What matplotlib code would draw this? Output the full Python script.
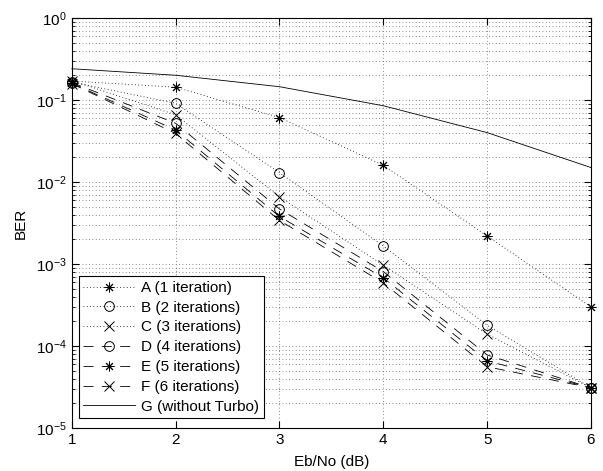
import matplotlib
matplotlib.use("Agg")
import matplotlib.pyplot as plt
from matplotlib.ticker import LogLocator, NullFormatter

plt.rcParams["font.family"] = ["Liberation Sans", "DejaVu Sans"]
plt.rcParams["mathtext.fontset"] = "custom"
plt.rcParams["mathtext.rm"] = "Liberation Sans"
plt.rcParams["mathtext.it"] = "Liberation Sans"

ebno = [1, 2, 3, 4, 5, 6]

ber_a = [0.170, 0.143, 0.061, 0.016, 0.0022, 0.00030]
ber_b = [0.165, 0.091, 0.013, 0.00166, 0.00018, 0.000031]
ber_c = [0.172, 0.066, 0.0066, 0.00097, 0.00014, 0.000031]
ber_d = [0.163, 0.052, 0.0047, 0.00081, 0.000078, 0.000031]
ber_e = [0.160, 0.043, 0.0038, 0.00068, 0.000066, 0.000031]
ber_f = [0.158, 0.039, 0.0034, 0.00059, 0.000056, 0.000031]
ber_g = [0.240, 0.200, 0.145, 0.085, 0.040, 0.015]

labels = [
    "A (1 iteration)",
    "B (2 iterations)",
    "C (3 iterations)",
    "D (4 iterations)",
    "E (5 iterations)",
    "F (6 iterations)",
    "G (without Turbo)",
]

asterisk = (8, 2, 0)
dotted = (0, (1, 3))
dashed = (0, (12, 10))

series = [
    (ber_a, asterisk, dotted),
    (ber_b, "o", dotted),
    (ber_c, "x", dotted),
    (ber_d, "o", dashed),
    (ber_e, asterisk, dashed),
    (ber_f, "x", dashed),
    (ber_g, None, "-"),
]

fig = plt.figure(figsize=(6.03, 4.71), dpi=100)
ax = fig.add_axes([0.119, 0.091, 0.861, 0.871])

for (values, marker, style), label in zip(series, labels):
    ax.semilogy(
        ebno,
        values,
        color="black",
        linestyle=style,
        linewidth=0.6,
        marker=marker,
        markersize=7,
        markerfacecolor="none",
        markeredgecolor="black",
        markeredgewidth=0.7,
        label=label,
        clip_on=False,
        zorder=3,
    )

ax.set_xlim(1, 6)
ax.set_ylim(1e-5, 1)
ax.yaxis.set_major_locator(LogLocator(base=10, numticks=10))
ax.yaxis.set_minor_locator(LogLocator(base=10, subs=range(2, 10), numticks=20))
ax.yaxis.set_minor_formatter(NullFormatter())

ax.grid(True, which="major", linestyle=(0, (1, 3)), color="0.4", linewidth=0.6)
ax.grid(True, which="minor", axis="y", linestyle=(0, (1, 3)), color="0.4", linewidth=0.6)

ax.tick_params(which="both", direction="in", top=True, right=True, labelsize=11)
ax.tick_params(which="major", length=5)
ax.tick_params(which="minor", length=2.5)
for spine in ax.spines.values():
    spine.set_linewidth(0.8)

ax.set_xlabel("Eb/No (dB)", fontsize=11, labelpad=6)
ax.set_ylabel("BER", fontsize=11, labelpad=6)

legend = ax.legend(
    loc="lower left",
    bbox_to_anchor=(0.0135, 0.024),
    borderaxespad=0,
    fontsize=11,
    handlelength=3.4,
    handletextpad=0.4,
    labelspacing=0.38,
    borderpad=0.3,
    fancybox=False,
    framealpha=1,
    edgecolor="black",
)
legend.get_frame().set_linewidth(0.8)

fig.savefig("out.png", dpi=100)
